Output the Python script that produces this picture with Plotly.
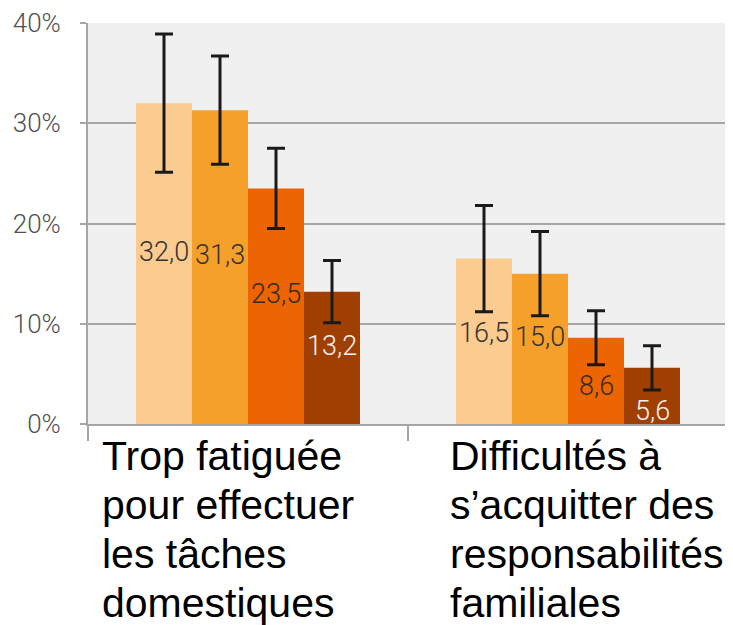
import plotly.graph_objects as go

categories = ["Trop fatiguée<br>pour effectuer<br>les tâches<br>domestiques",
              "Difficultés à<br>s’acquitter des<br>responsabilités<br>familiales"]
series_names = ["Série 1", "Série 2", "Série 3", "Série 4"]
# values per series: [category 1, category 2]
values = [
    [32.0, 16.5],
    [31.3, 15.0],
    [23.5, 8.6],
    [13.2, 5.6],
]
errors = [
    [6.9, 5.3],
    [5.4, 4.2],
    [4.0, 2.7],
    [3.1, 2.2],
]
y_ticks = [0, 10, 20, 30, 40]
y_tick_labels = ["0%", "10%", "20%", "30%", "40%"]

colors = ["#FBCB8F", "#F4A02A", "#EC6502", "#A03F02"]
label_colors = ["#333333", "#333333", "#3A2A1E", "#F2F2F2"]

n_series = len(values)
group_width = 0.7
bar_w = group_width / n_series
grid_col = "#A6A6A6"

fig = go.Figure()
annotations = []
for i, (name, vals, errs) in enumerate(zip(series_names, values, errors)):
    xs = [g + (i - (n_series - 1) / 2) * bar_w for g in range(len(categories))]
    fig.add_trace(go.Bar(
        name=name, x=xs, y=vals, width=bar_w,
        marker=dict(color=colors[i], line=dict(width=0)),
        error_y=dict(type="data", array=errs, visible=True,
                     color="#1A1A1A", thickness=3, width=9),
        showlegend=False,
    ))
    for x, v, e in zip(xs, vals, errs):
        # label sits a bit above the bar middle, but below the error bar's lower cap
        label_y = min(v / 2 + 1.2, v - e - 2.1)
        annotations.append(dict(
            x=x, y=label_y, xref="x", yref="y",
            text=f"{v:.1f}".replace(".", ","), showarrow=False,
            font=dict(family="Roboto", size=27, weight=300, color=label_colors[i]),
            xanchor="center", yanchor="middle",
        ))

cat_shifts = [12, 40]
line_step = 49
for g, (cat, sh) in enumerate(zip(categories, cat_shifts)):
    for k, line in enumerate(cat.split("<br>")):
        annotations.append(dict(
            x=g - 0.5, y=0, xref="x", yref="paper",
            text=line, showarrow=False, align="left",
            xanchor="left", yanchor="top", xshift=sh, yshift=-7 - k * line_step,
            font=dict(family="Liberation Sans, Arial", size=41, color="#000000"),
        ))

# The page body has an 8px default margin; the figure is sized to fill the rest.
fig.update_layout(
    width=725, height=617,
    margin=dict(l=80, r=0, t=15, b=201),
    paper_bgcolor="#FFFFFF", plot_bgcolor="#F0F0F0",
    barmode="overlay",
    annotations=annotations,
    xaxis=dict(
        range=[-0.5, len(categories) - 0.5 + 5 / 320],
        tickvals=[g - 0.5 for g in range(len(categories) + 1)],
        showticklabels=False, ticks="outside", ticklen=15, tickwidth=2,
        tickcolor=grid_col, showgrid=False, zeroline=False,
        showline=True, linecolor=grid_col, linewidth=2,
    ),
    yaxis=dict(
        range=[0, 40], tickvals=y_ticks, ticktext=y_tick_labels,
        ticks="outside", ticklen=6, tickwidth=2, tickcolor=grid_col,
        showgrid=True, gridcolor=grid_col, gridwidth=2, zeroline=False,
        showline=True, linecolor=grid_col, linewidth=2,
        tickfont=dict(family="Roboto", size=26, weight=300, color="#505050"),
        ticklabelstandoff=14,
    ),
)

fig.write_html("out.html")
